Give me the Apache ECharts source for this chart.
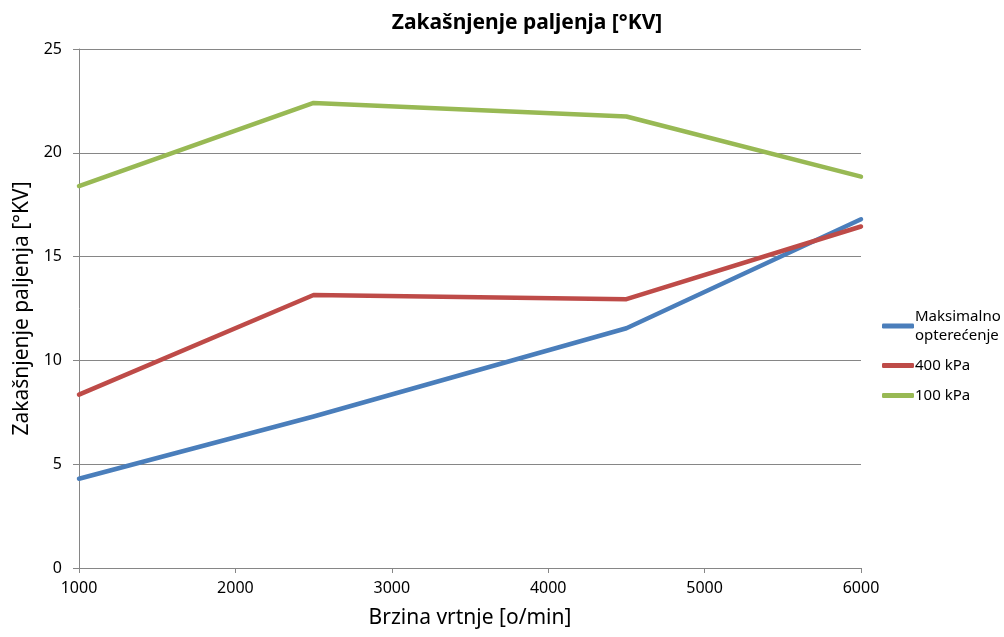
<!DOCTYPE html>
<html>
<head>
<meta charset="utf-8">
<script src="https://cdn.jsdelivr.net/npm/echarts@6/dist/echarts.min.js"></script>
<style>
  html, body { margin: 0; padding: 0; background: #fff; }
  #chart { width: 1004px; height: 637px; }
</style>
</head>
<body>
<div id="chart"></div>
<script>
// Engine speed [o/min]
const speeds = [1000, 2500, 4500, 6000];

// Ignition delay [°KV] per load case
const maxLoad = [4.3, 7.3, 11.55, 16.8];
const load400 = [8.35, 13.15, 12.95, 16.45];
const load100 = [18.4, 22.4, 21.75, 18.85];

const seriesNames = ['Maksimalno opterećenje', '400 kPa', '100 kPa'];
const legendLabels = {
  'Maksimalno opterećenje': 'Maksimalno\nopterećenje',
  '400 kPa': '400 kPa',
  '100 kPa': '100 kPa'
};
const seriesColors = ['#4a7ebb', '#be4b48', '#98b954'];
const seriesValues = [maxLoad, load400, load100];

const FONT = 'Noto Sans';
const GRAY = '#868686';

const chart = echarts.init(document.getElementById('chart'), null, { renderer: 'canvas' });

chart.setOption({
  backgroundColor: '#ffffff',
  animation: false,
  title: {
    text: 'Zakašnjenje paljenja [°KV]',
    left: 522,
    top: 8,
    textAlign: 'center',
    textStyle: { fontFamily: FONT, fontSize: 21, fontWeight: 'bold', color: '#000' }
  },
  grid: { left: 79, right: 143, top: 49, bottom: 69, containLabel: false },
  legend: {
    orient: 'vertical',
    left: 877,
    top: 302,
    itemWidth: 32,
    itemHeight: 5,
    itemGap: 11,
    icon: 'roundRect',
    data: seriesNames,
    formatter: name => legendLabels[name],
    textStyle: { fontFamily: FONT, fontSize: 15, color: '#000', lineHeight: 19, padding: [0, 0, 0, -4] }
  },
  xAxis: {
    type: 'value',
    min: 1000,
    max: 6000,
    interval: 1000,
    name: 'Brzina vrtnje [o/min]',
    nameLocation: 'middle',
    nameGap: 40,
    nameTextStyle: { fontFamily: FONT, fontSize: 21, color: '#000' },
    axisLine: { show: true, lineStyle: { color: GRAY, width: 1 } },
    axisTick: { show: true, length: 5, lineStyle: { color: GRAY } },
    axisLabel: { fontFamily: FONT, fontSize: 16, color: '#000', margin: 12, formatter: v => String(v) },
    splitLine: { show: false }
  },
  yAxis: {
    type: 'value',
    min: 0,
    max: 25,
    interval: 5,
    name: 'Zakašnjenje paljenja [°KV]',
    nameLocation: 'middle',
    nameGap: 44,
    nameTextStyle: { fontFamily: FONT, fontSize: 21, color: '#000' },
    axisLine: { show: true, lineStyle: { color: GRAY, width: 1 } },
    axisTick: { show: true, length: 6, inside: false, lineStyle: { color: GRAY } },
    axisLabel: { fontFamily: FONT, fontSize: 16, color: '#000', margin: 17 },
    splitLine: { show: true, lineStyle: { color: GRAY, width: 1 } }
  },
  series: seriesNames.map((name, i) => ({
    name: name,
    type: 'line',
    data: speeds.map((s, j) => [s, seriesValues[i][j]]),
    showSymbol: false,
    symbol: 'none',
    color: seriesColors[i],
    lineStyle: { color: seriesColors[i], width: 4.5, cap: 'round', join: 'round' }
  }))
});
</script>
</body>
</html>
